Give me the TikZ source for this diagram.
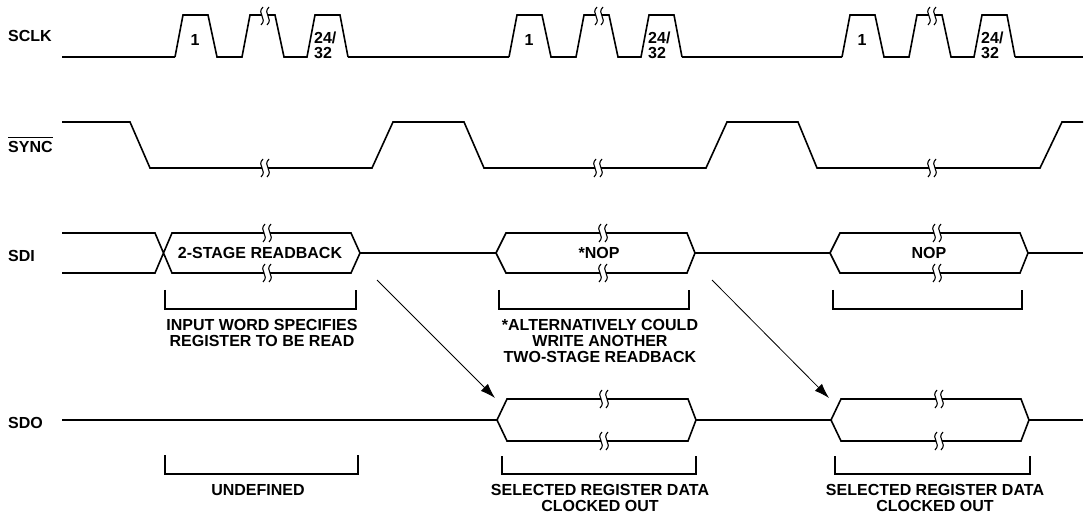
\documentclass[tikz,border=0pt]{standalone}
\usepackage{fontspec}
\setmainfont{Liberation Sans}
\usetikzlibrary{arrows.meta, positioning, calc}

\newcommand{\cutmark}[2]{%
  \fill[white] ({#1-3},{#2-2.5}) rectangle ({#1+3},{#2+2.5});
  \draw[cut] ({#1-2},{#2-9}) .. controls ({#1-9},{#2-2}) and ({#1+3},{#2+2}) .. ({#1-4},{#2+9});
  \draw[cut] ({#1+4},{#2-9}) .. controls ({#1-3},{#2-2}) and ({#1+9},{#2+2}) .. ({#1+2},{#2+9});
}
\newcommand{\busword}[5]{%
  \draw[sig] (#2,#4) -- ({#2+10},{#4-#5}) -- ({#3-8},{#4-#5}) -- (#3,#4)
    -- ({#3-8},{#4+#5}) -- ({#2+10},{#4+#5}) -- cycle;
  \coordinate (#1-l) at (#2,#4);
  \coordinate (#1-r) at (#3,#4);
  \coordinate (#1-tl) at ({#2+10},{#4-#5});
}

\begin{document}
\begin{tikzpicture}[x=1pt, y=-1pt,
    sig/.style={line width=1.6pt},
    cut/.style={line width=1.1pt},
    brkt/.style={line width=1.5pt},
    ptr/.style={line width=0.8pt, -{Latex[length=15pt, width=10pt]}},
    lbl/.style={font=\bfseries\fontsize{16}{15}\selectfont, inner sep=0pt},
    note/.style={lbl, align=center, anchor=north,
      font=\bfseries\fontsize{16}{16}\selectfont}
  ]
  \useasboundingbox (0,0) rectangle (1086,518);

  \node[lbl, anchor=base west] (sclk) at (8,42) {SCLK};
  \node[lbl, anchor=base west] (sync) at (8,153) {SYNC};
  \draw[line width=1.3pt] ($(sync.north west)+(0,-4)$) -- ($(sync.north east)+(0,-4)$);
  \node[lbl, anchor=base west] (sdi) at (8,262) {SDI};
  \node[lbl, anchor=base west] (sdo) at (8,428) {SDO};

  % SCLK
  \draw[sig] (62,57) -- (175,57) (348,57) -- (509,57)
    (682,57) -- (842,57) (1015,57) -- (1083,57);
  \foreach \s [count=\i] in {175,509,842} {
    \draw[sig] (\s,57) -- ++(8,-42) -- ++(25,0) -- ++(9,42) -- ++(25,0)
      -- ++(8,-42) -- ++(25,0) -- ++(9,42) -- ++(23,0)
      -- ++(8,-42) -- ++(25,0) -- ++(8,42);
    \node[lbl] (first\i) at (\s+20,40) {1};
    \node[lbl, anchor=west, align=left] (last\i) at (\s+139,45) {24/\\32};
    \cutmark{\s+90}{16}
  }

  % SYNC
  \draw[sig] (62,122) -- (130,122) -- (150,168) -- (372,168) -- (393,122)
    -- (464,122) -- (484,168) -- (706,168) -- (727,122) -- (798,122)
    -- (817,168) -- (1040,168) -- (1062,122) -- (1083,122);

  % SDI
  \draw[sig] (62,233) -- (155,233) -- (172,273) -- (351,273) -- (360,253)
    -- (351,233) -- (172,233) -- (155,273) -- (62,273);
  \coordinate (rd-r) at (360,253);
  \busword{nop1}{496}{695}{253}{20}
  \busword{nop2}{830}{1028}{253}{20}
  \draw[sig] (rd-r) -- (nop1-l) (nop1-r) -- (nop2-l) (nop2-r) -- (1083,253);
  \node[lbl] (rdtxt) at (260,253) {2-STAGE READBACK};
  \node[lbl] (nop1txt) at (599,253) {*NOP};
  \node[lbl] (nop2txt) at (929,253) {NOP};

  % SDO
  \busword{out1}{497}{696}{420}{21}
  \busword{out2}{831}{1029}{420}{21}
  \draw[sig] (62,420) -- (out1-l) (out1-r) -- (out2-l) (out2-r) -- (1083,420);

  \foreach \cx/\cy in {265/168, 598/168, 932/168, 267/233, 267/273,
      603/233, 603/273, 937/233, 937/273, 604/399, 604/441, 939/399, 939/441}
    {\cutmark{\cx}{\cy}}

  \foreach \a/\b/\t/\u in {165/356/290/309, 499/689/290/309, 833/1022/290/309,
      165/358/455/474, 502/696/456/474, 835/1030/456/474}
    \draw[brkt] (\a,\t) -- (\a,\u) -- (\b,\u) -- (\b,\t);

  \node[note] (readnote) at (262,319) {INPUT WORD SPECIFIES\\REGISTER TO BE READ};
  \node[note] (altnote) at (600,319) {*ALTERNATIVELY COULD\\WRITE ANOTHER\\TWO-STAGE READBACK};
  \node[note] (undef) at (258,484) {UNDEFINED};
  \node[note] (outnote1) at (600,484) {SELECTED REGISTER DATA\\CLOCKED OUT};
  \node[note] (outnote2) at (935,484) {SELECTED REGISTER DATA\\CLOCKED OUT};

  \draw[ptr] ($(rd-r)+(17,27)$) -- ($(out1-tl)+(-12,-1)$);
  \draw[ptr] ($(nop1-r)+(17,27)$) -- ($(out2-tl)+(-12,-1)$);
\end{tikzpicture}
\end{document}
